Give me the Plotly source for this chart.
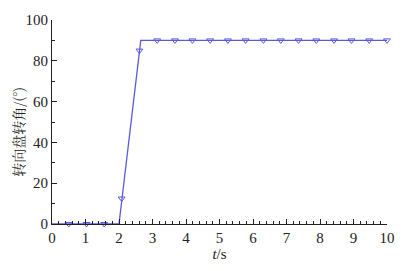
import plotly.graph_objects as go

# Line (steering wheel angle vs time)
line_t = [0, 2.0, 2.65, 10]
line_v = [0, 0, 90, 90]

# Marker positions and values
mark_t = [0.5, 1.03, 1.56, 2.08, 2.61, 3.14, 3.67, 4.19, 4.72, 5.25, 5.78,
          6.31, 6.83, 7.36, 7.89, 8.42, 8.94, 9.47, 10.0]
mark_v = [0, 0, 0, 12.5, 85, 90, 90, 90, 90, 90, 90, 90, 90, 90, 90, 90, 90, 90, 90]

x_ticks = [0, 1, 2, 3, 4, 5, 6, 7, 8, 9, 10]
y_ticks = [0, 20, 40, 60, 80, 100]

color = "#5a5ae0"
fig = go.Figure()
fig.add_trace(go.Scatter(x=line_t, y=line_v, mode="lines",
                         line=dict(color=color, width=1.3), cliponaxis=False,
                         showlegend=False))
fig.add_trace(go.Scatter(x=mark_t, y=mark_v, mode="markers",
                         marker=dict(symbol="triangle-down-open", size=6,
                                     color=color, line=dict(width=1, color=color)),
                         cliponaxis=False, showlegend=False))

serif = "Liberation Serif, Times New Roman, serif"
fig.update_layout(
    width=416, height=271,
    margin=dict(l=52, r=29, t=15, b=46),
    plot_bgcolor="white", paper_bgcolor="white",
    font=dict(family=serif, size=14, color="#222"),
    xaxis=dict(range=[0, 10], tickvals=x_ticks, ticks="inside", ticklen=5,
               tickwidth=1, tickcolor="#222", showline=True, linecolor="#222",
               linewidth=1, showgrid=False, zeroline=False,
               minor=dict(dtick=0.2, ticks="inside", ticklen=3, tickcolor="#222", showgrid=False),
               title=dict(text="<i>t</i>/s", font=dict(family=serif, size=15), standoff=2),
               tickfont=dict(family=serif, size=15)),
    yaxis=dict(range=[0, 100], tickvals=y_ticks, ticks="inside", ticklen=5,
               tickwidth=1, tickcolor="#222", showline=True, linecolor="#222",
               linewidth=1, showgrid=False, zeroline=False,
               minor=dict(dtick=10, ticks="inside", ticklen=3, tickcolor="#222", showgrid=False),
               tickfont=dict(family=serif, size=15)),
    annotations=[dict(text="转向盘转角/(°)", textangle=-90, xref="paper", yref="paper",
                      x=-0.1, y=0.45, xanchor="center", yanchor="middle", showarrow=False,
                      font=dict(family="Noto Serif CJK SC, Noto Sans CJK SC", size=14, color="#222"))],
)
fig.write_html("out.html")
